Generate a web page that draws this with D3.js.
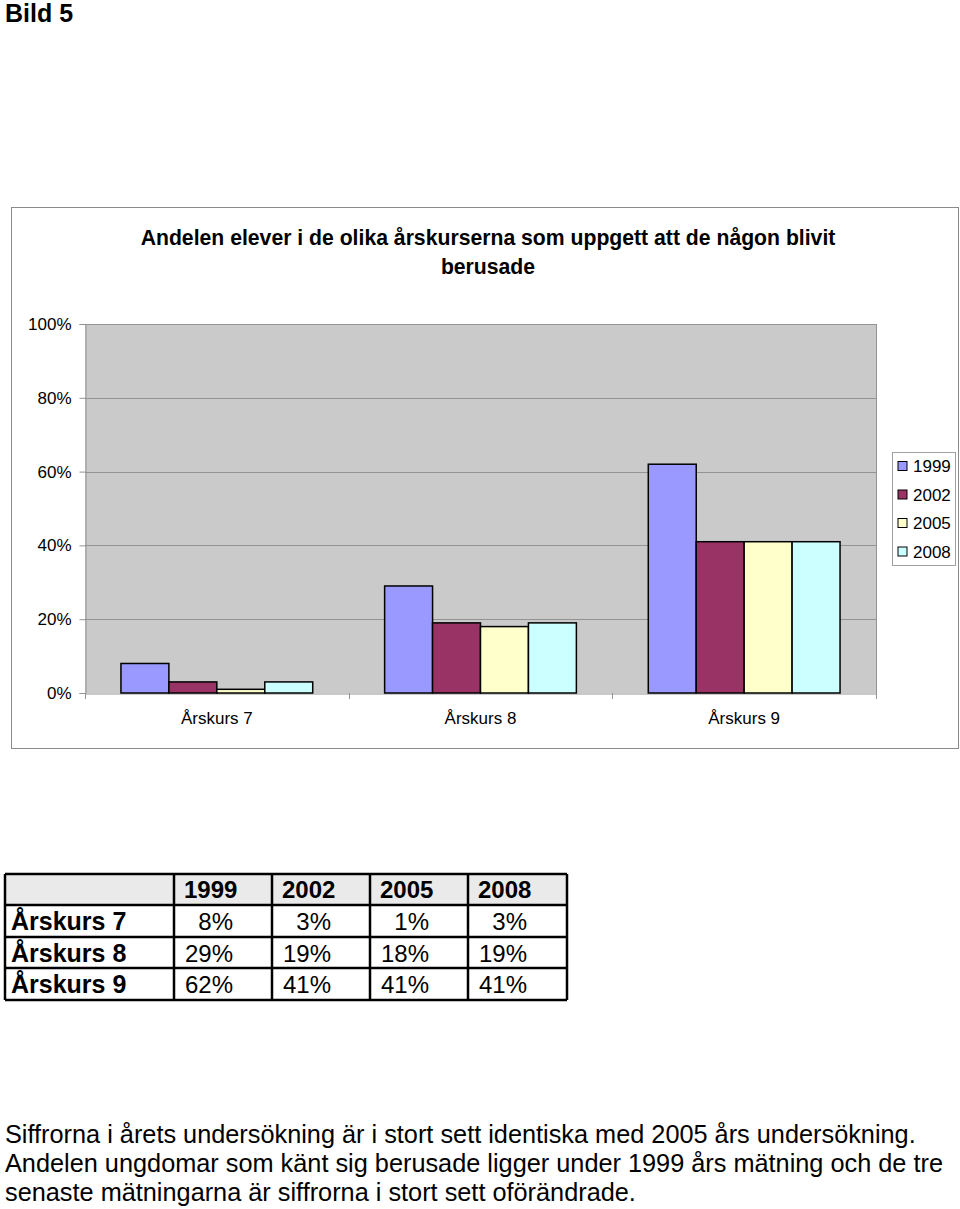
<!DOCTYPE html>
<html><head><meta charset="utf-8">
<script src="https://cdn.jsdelivr.net/npm/d3@7"></script>
<style>
html,body{margin:0;padding:0;background:#fff;}
svg{display:block;font-family:"Liberation Sans",Arial,Helvetica,sans-serif;}
</style></head>
<body>
<svg id="c" width="960" height="1209"></svg>
<script>
const categories = ["Årskurs 7", "Årskurs 8", "Årskurs 9"];
const years = ["1999", "2002", "2005", "2008"];
const v1999 = [8, 29, 62];
const v2002 = [3, 19, 41];
const v2005 = [1, 18, 41];
const v2008 = [3, 19, 41];
const colors = ["#9999ff", "#993366", "#ffffcc", "#ccffff"];
const yTicks = [0, 20, 40, 60, 80, 100];
const tableValues = [
  ["8%", "3%", "1%", "3%"],
  ["29%", "19%", "18%", "19%"],
  ["62%", "41%", "41%", "41%"]
];
const pageTitle = "Bild 5";
const chartTitle = ["Andelen elever i de olika årskurserna som uppgett att de någon blivit", "berusade"];
const footer = [
  "Siffrorna i årets undersökning är i stort sett identiska med 2005 års undersökning.",
  "Andelen ungdomar som känt sig berusade ligger under 1999 års mätning och de tre",
  "senaste mätningarna är siffrorna i stort sett oförändrade."
];

(function () {
const series = [v1999, v2002, v2005, v2008];
const svg = d3.select("#c");

svg.append("text").attr("x", 5).attr("y", 22).attr("font-size", 25).attr("font-weight", "bold").text(pageTitle);

// chart frame
svg.append("rect").attr("x", 11.5).attr("y", 207.5).attr("width", 947).attr("height", 541)
  .attr("fill", "#fff").attr("stroke", "#8a8a8a").attr("stroke-width", 1);

svg.selectAll("text.ct").data(chartTitle).enter().append("text").attr("class", "ct")
  .attr("x", 488).attr("y", (d, i) => 245 + i * 29).attr("text-anchor", "middle")
  .attr("font-size", 21.2).attr("font-weight", "bold").text(d => d);

const pL = 85, pR = 876, pT = 324, pB = 693;
const x0 = d3.scaleBand().domain(categories).range([pL, pR]).paddingInner(0).paddingOuter(0);
const x1 = d3.scaleBand().domain(years).range([0, x0.bandwidth()]).paddingInner(0).paddingOuter(0.75);
const y = d3.scaleLinear().domain([0, 100]).range([pB, pT]);

svg.append("rect").attr("x", pL).attr("y", pT).attr("width", pR - pL).attr("height", pB - pT)
  .attr("fill", "#cacaca");
svg.append("g").selectAll("line").data(yTicks.filter(t => t > 0)).enter().append("line")
  .attr("x1", pL).attr("x2", pR).attr("y1", d => Math.round(y(d)) + 0.5).attr("y2", d => Math.round(y(d)) + 0.5)
  .attr("stroke", "#939393").attr("stroke-width", 1);
svg.append("line").attr("x1", pR + 0.5).attr("x2", pR + 0.5).attr("y1", pT).attr("y2", pB)
  .attr("stroke", "#939393");

// y axis
const yAxis = svg.append("g").attr("transform", `translate(${pL + 0.5},0)`)
  .call(d3.axisLeft(y).tickValues(yTicks).tickFormat(d => d + "%").tickSize(6).tickPadding(8));
yAxis.select(".domain").attr("stroke", "#939393");
yAxis.selectAll(".tick line").attr("stroke", "#939393");
yAxis.selectAll(".tick text").attr("font-size", 17).attr("fill", "#000").attr("font-family", "Liberation Sans, Arial, sans-serif");

// x axis
const xAxis = svg.append("g").attr("transform", `translate(0,${pB + 0.5})`)
  .call(d3.axisBottom(x0).tickSize(0).tickPadding(18));
xAxis.select(".domain").attr("stroke", "#939393");
xAxis.selectAll(".tick text").attr("font-size", 17).attr("fill", "#000").attr("font-family", "Liberation Sans, Arial, sans-serif");
svg.append("g").selectAll("line").data(d3.range(categories.length + 1)).enter().append("line")
  .attr("x1", d => Math.round(pL + d * x0.bandwidth()) + 0.5)
  .attr("x2", d => Math.round(pL + d * x0.bandwidth()) + 0.5)
  .attr("y1", pB).attr("y2", pB + 6).attr("stroke", "#939393");

// bars
const groups = svg.append("g").selectAll("g").data(categories).enter().append("g")
  .attr("transform", d => `translate(${x0(d)},0)`);
groups.selectAll("rect").data((c, ci) => years.map((yr, si) => ({ yr, si, v: series[si][ci] })))
  .enter().append("rect")
  .attr("x", d => x1(d.yr)).attr("width", x1.bandwidth())
  .attr("y", d => y(d.v)).attr("height", d => pB - y(d.v))
  .attr("fill", d => colors[d.si]).attr("stroke", "#000").attr("stroke-width", 1.5);

// legend
const lg = svg.append("g");
lg.append("rect").attr("x", 892.5).attr("y", 452.5).attr("width", 63).attr("height", 113)
  .attr("fill", "#fff").attr("stroke", "#a0a0a0");
const li = lg.selectAll("g").data(years).enter().append("g")
  .attr("transform", (d, i) => `translate(0,${466 + i * 28.5})`);
li.append("rect").attr("x", 898).attr("y", -4.5).attr("width", 9).attr("height", 9)
  .attr("fill", (d, i) => colors[i]).attr("stroke", "#000").attr("stroke-width", 1);
li.append("text").attr("x", 913).attr("y", 6).attr("font-size", 17).text(d => d);

// table
const colX = [5, 174, 272, 370, 468, 567];
const rowY = [874, 905, 937, 968, 1000];
const tg = svg.append("g");
tg.append("rect").attr("x", colX[0]).attr("y", rowY[0]).attr("width", colX[5] - colX[0]).attr("height", rowY[1] - rowY[0])
  .attr("fill", "#eaeaea");
tg.selectAll("line.h").data(rowY).enter().append("line").attr("class", "h")
  .attr("x1", colX[0]).attr("x2", colX[5]).attr("y1", d => d).attr("y2", d => d)
  .attr("stroke", "#000").attr("stroke-width", 2.5);
tg.selectAll("line.v").data(colX).enter().append("line").attr("class", "v")
  .attr("x1", d => d).attr("x2", d => d).attr("y1", rowY[0]).attr("y2", rowY[4])
  .attr("stroke", "#000").attr("stroke-width", 2.5);
tg.selectAll("text.hd").data(years).enter().append("text").attr("class", "hd")
  .attr("x", (d, i) => colX[i + 1] + 10).attr("y", rowY[0] + 24)
  .attr("font-size", 24).attr("font-weight", "bold").text(d => d);
tg.selectAll("text.rl").data(categories).enter().append("text").attr("class", "rl")
  .attr("x", 11).attr("y", (d, i) => rowY[i + 1] + 25)
  .attr("font-size", 25).attr("font-weight", "bold").text(d => d);
tableValues.forEach((row, ri) => {
  tg.selectAll("text.r" + ri).data(row).enter().append("text").attr("class", "r" + ri)
    .attr("x", (d, i) => colX[i + 1] + 59).attr("y", rowY[ri + 1] + 25).attr("text-anchor", "end")
    .attr("font-size", 24).text(d => d);
});

// footer
svg.selectAll("text.ft").data(footer).enter().append("text").attr("class", "ft")
  .attr("x", 5).attr("y", (d, i) => 1143 + i * 29).attr("font-size", 25.3).text(d => d);
})();
</script>
</body></html>
